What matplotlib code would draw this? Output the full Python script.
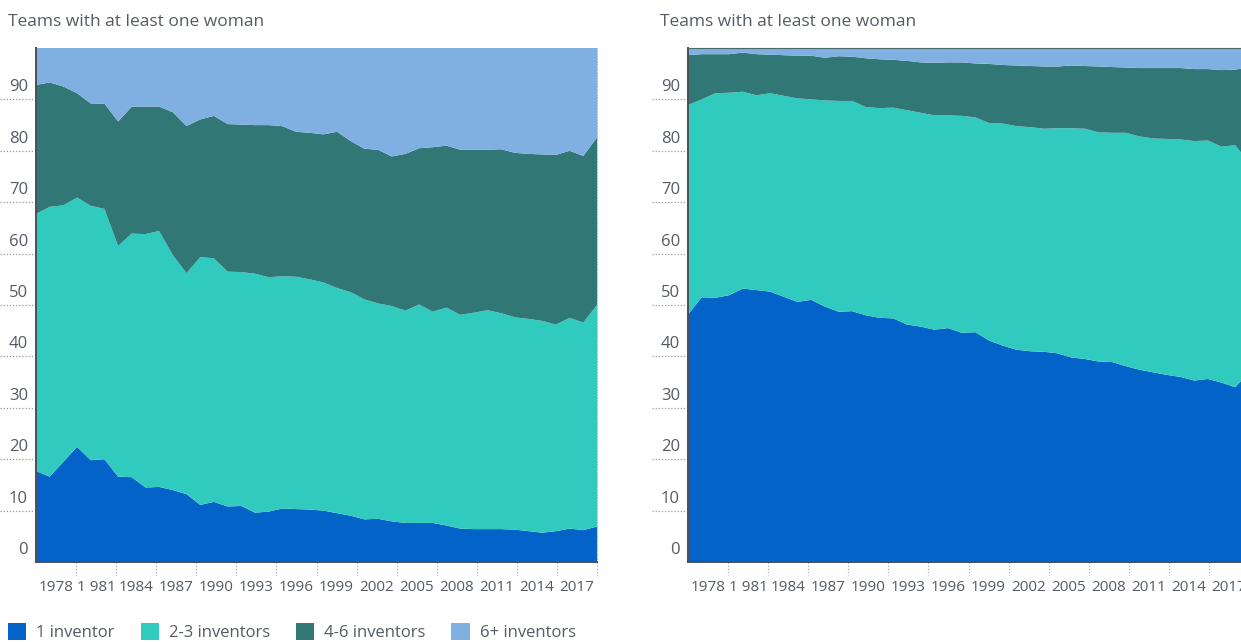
import matplotlib.pyplot as plt
from matplotlib.patches import Patch
from matplotlib import transforms

plt.rcParams['font.family'] = ['Open Sans', 'DejaVu Sans']

years = list(range(1976, 2018))
tick_labels = ['1978', '1 981', '1984', '1987', '1990', '1993', '1996',
               '1999', '2002', '2005', '2008', '2011', '2014', '2017']
series_names = ['1 inventor', '2-3 inventors', '4-6 inventors', '6+ inventors']
colors = ['#0363c9', '#30cbbe', '#307775', '#80afe2']

# left panel, share of patents (%)
left_1 = [17.7, 16.6, 19.5, 22.4, 19.8, 20.0, 16.6, 16.5, 14.5, 14.6, 14.0, 13.2, 11.1, 11.7,
          10.8, 10.9, 9.6, 9.8, 10.4, 10.3, 10.2, 10.0, 9.5, 9.0, 8.3, 8.4, 7.9, 7.6,
          7.6, 7.6, 7.1, 6.5, 6.4, 6.4, 6.4, 6.3, 6.0, 5.7, 6.0, 6.5, 6.2, 6.9]
left_2_3 = [50.0, 52.5, 49.9, 48.5, 49.5, 48.7, 44.9, 47.4, 49.3, 49.8, 45.7, 43.0, 48.2, 47.4,
            45.7, 45.5, 46.5, 45.6, 45.2, 45.2, 44.8, 44.4, 43.8, 43.5, 42.8, 41.9, 41.9, 41.3,
            42.5, 41.1, 42.4, 41.6, 42.1, 42.6, 42.0, 41.3, 41.3, 41.2, 40.2, 41.0, 40.4, 43.1]
left_4_6 = [25.1, 24.2, 23.1, 20.3, 19.9, 20.5, 24.2, 24.7, 24.8, 24.2, 27.8, 28.6, 26.8, 27.7,
            28.7, 28.7, 28.9, 29.6, 29.2, 28.2, 28.5, 28.8, 30.4, 29.4, 29.3, 29.9, 29.1, 30.5,
            30.4, 32.0, 31.5, 32.1, 31.7, 31.2, 31.9, 32.0, 32.1, 32.4, 33.0, 32.5, 32.4, 32.6]
left_6p = [7.2, 6.7, 7.5, 8.8, 10.8, 10.8, 14.3, 11.4, 11.4, 11.4, 12.5, 15.2, 13.9, 13.2,
           14.8, 14.9, 15.0, 15.0, 15.2, 16.3, 16.5, 16.8, 16.3, 18.1, 19.6, 19.8, 21.1, 20.6,
           19.5, 19.3, 19.0, 19.8, 19.8, 19.8, 19.7, 20.4, 20.6, 20.7, 20.8, 20.0, 21.0, 17.4]

# right panel, share of patents (%)
right_1 = [48.1, 51.5, 51.4, 51.9, 53.2, 52.9, 52.6, 51.6, 50.6, 51.0, 49.7, 48.7, 48.8, 48.0,
           47.5, 47.4, 46.2, 45.8, 45.2, 45.5, 44.6, 44.7, 43.1, 42.1, 41.3, 41.0, 40.9, 40.6,
           39.8, 39.5, 39.0, 38.9, 38.1, 37.4, 36.9, 36.4, 36.0, 35.3, 35.6, 34.9, 34.0, 37.0]
right_2_3 = [40.8, 38.5, 39.8, 39.4, 38.3, 37.9, 38.6, 39.1, 39.6, 39.0, 40.1, 41.0, 40.9, 40.5,
             40.8, 41.0, 41.7, 41.6, 41.7, 41.4, 42.2, 41.8, 42.3, 43.2, 43.5, 43.6, 43.4, 43.8,
             44.6, 44.8, 44.6, 44.6, 45.4, 45.4, 45.5, 45.9, 46.2, 46.6, 46.4, 45.9, 47.1, 40.6]
right_4_6 = [9.7, 8.8, 7.6, 7.5, 7.6, 8.0, 7.5, 7.9, 8.3, 8.5, 8.3, 8.7, 8.6, 9.5,
             9.5, 9.3, 9.6, 9.8, 10.2, 10.3, 10.4, 10.5, 11.5, 11.4, 11.8, 11.9, 12.1, 12.0,
             12.2, 12.2, 12.8, 12.8, 12.7, 13.3, 13.7, 13.8, 13.9, 14.0, 13.9, 14.9, 14.7, 18.6]
right_6p = [1.4, 1.2, 1.2, 1.2, 0.9, 1.2, 1.3, 1.4, 1.5, 1.5, 1.9, 1.6, 1.7, 2.0,
            2.2, 2.3, 2.5, 2.8, 2.9, 2.8, 2.8, 3.0, 3.1, 3.3, 3.4, 3.5, 3.6, 3.6,
            3.4, 3.5, 3.6, 3.7, 3.8, 3.9, 3.9, 3.9, 3.9, 4.1, 4.1, 4.3, 4.2, 3.8]

text_col = '#545b64'
W, H = 1241, 642
fig = plt.figure(figsize=(W / 100, H / 100), dpi=100)


def panel(left_px, title, s1, s2, s3, s4):
    ax = fig.add_axes([left_px / W, 80 / H, 561 / W, 514 / H])
    ax.stackplot(years, s1, s2, s3, s4, colors=colors, linewidth=0)
    x0, x1 = years[0], years[-1]
    ax.set_xlim(x0, x1)
    ax.set_ylim(0, 100)

    for s in ['top', 'right']:
        ax.spines[s].set_visible(False)
    ax.spines['left'].set_color('#4a5058')
    ax.spines['left'].set_linewidth(1.4)
    ax.spines['bottom'].set_color('#4a5058')
    ax.spines['bottom'].set_linewidth(1.4)

    # x labels sit between the dotted tick marks
    n = len(tick_labels)
    ax.set_xticks([x0 + (x1 - x0) * (i + 0.5) / n for i in range(n)])
    ax.set_xticklabels(tick_labels, fontsize=11, color=text_col)
    ax.tick_params(axis='x', length=0, pad=13)
    for i in range(n):
        xt = x0 + (x1 - x0) * (i + 1) / n
        ax.plot([xt, xt], [0, -13 / 514], transform=ax.get_xaxis_transform(),
                color='#aaaaaa', lw=0.9, ls=(0, (1, 1.5)), clip_on=False)

    ax.set_yticks([])
    lab_tr = transforms.offset_copy(ax.get_yaxis_transform(), fig=fig, x=-8, y=12, units='dots')
    for v in range(0, 100, 10):
        ax.text(0, v, str(v), transform=lab_tr, ha='right', va='center',
                fontsize=12, color=text_col)
        if v > 0:
            ax.plot([-36 / 561, 0], [v, v], transform=ax.get_yaxis_transform(),
                    color='#999999', lw=0.9, ls=(0, (1, 1.5)), clip_on=False)

    fig.text((left_px - 28) / W, 1 - 22 / H, title, fontsize=12.5, color=text_col,
             ha='left', va='center')
    return ax


axl = panel(36, 'Teams with at least one woman', left_1, left_2_3, left_4_6, left_6p)
axl.spines['right'].set_visible(True)
axl.spines['right'].set_color('#bbbbbb')
axl.spines['right'].set_linestyle((0, (1, 1.5)))
axr = panel(688, 'Teams with at least one woman', right_1, right_2_3, right_4_6, right_6p)
axr.spines['top'].set_visible(True)
axr.spines['top'].set_color('#4a6a6a')
axr.spines['top'].set_linewidth(0.8)

handles = [Patch(facecolor=c, edgecolor='none') for c in colors]
fig.legend(handles, series_names, loc='center left', bbox_to_anchor=(8 / W, 10 / H),
           ncol=4, frameon=False, fontsize=12, handlelength=1.1, handleheight=1.2,
           handletextpad=0.6, columnspacing=1.55, borderpad=0, borderaxespad=0,
           labelcolor=text_col)

fig.savefig('out.png', dpi=100)
